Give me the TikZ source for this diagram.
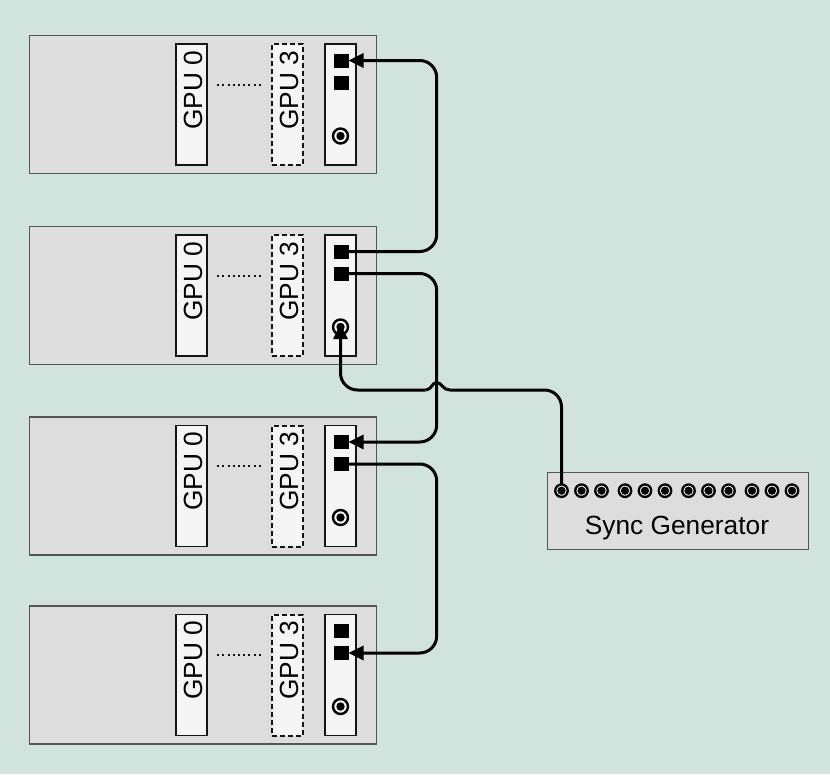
\documentclass[tikz,border=0pt]{standalone}
\usepackage{fontspec}
\setmainfont{Liberation Sans}
\usetikzlibrary{arrows.meta}
\definecolor{bg}{RGB}{208,227,220}
\definecolor{boxfill}{RGB}{221,221,221}
\definecolor{boxline}{RGB}{85,85,85}
\definecolor{panelfill}{RGB}{245,245,245}
\definecolor{ink}{RGB}{20,20,20}
\newcommand\lblfont{\fontsize{26.3}{30}\selectfont}
\tikzset{
  server/.style={draw=boxline, fill=boxfill, line width=1.5pt, minimum width=347pt, minimum height=138pt, inner sep=0pt},
  slot/.style={draw=ink, fill=panelfill, line width=1.5pt, minimum width=31pt, minimum height=121pt, inner sep=0pt},
  slotdash/.style={slot, line width=2pt, dash pattern=on 5pt off 3pt},
  gpulbl/.style={rotate=90, inner sep=0pt, font=\lblfont},
  dotline/.style={draw=ink, line width=2pt, dash pattern=on 2pt off 3.2pt},
  sqport/.style={fill=black, minimum width=15pt, minimum height=14pt, inner sep=0pt, outer sep=0pt},
  ringport/.style={circle, draw=black, fill=panelfill, line width=2.4pt, minimum size=15pt, inner sep=0pt, outer sep=0pt},
  sgport/.style={circle, draw=black, fill=panelfill, line width=2.3pt, minimum size=12.5pt, inner sep=0pt, outer sep=0pt},
  conn/.style={draw=black, line width=3pt, rounded corners=17pt},
  connarrow/.style={conn, -{Triangle[length=15pt,width=14pt]}},
  hopline/.style={draw=black, line width=3pt},
}
\begin{document}
\begin{tikzpicture}[x=1pt,y=-1pt]
\fill[bg] (0,0) rectangle (830,774);
\useasboundingbox (0,0) rectangle (830,774);
\coordinate (bus) at (436.7,0);
\coordinate (hop) at (436.7,390);
% servers
\foreach \t [count=\i] in {35.5,226.5,417,606} {
  \node[server] (srv\i) at (203,\t+69) {};
  \node[slot] (gz\i) at (191.5,\t+69) {};
  \node[slotdash] (gt\i) at (287,\t+69) {};
  \node[slot] (pn\i) at (340.5,\t+69) {};
  \node[gpulbl] (tz\i) at (193.3,\t+54.5) {GPU 0};
  \node[gpulbl] (tt\i) at (289,\t+54.5) {GPU 3};
  \draw[dotline] ([xshift=9.5pt,yshift=20pt]gz\i.east) -- ([xshift=-8pt,yshift=20pt]gt\i.west);
  \node[sqport] (sa\i) at (341,\t+25) {};
  \node[sqport] (sb\i) at (341,\t+47) {};
  \node[ringport] (rc\i) at (340.5,\t+100.5) {};
  \fill (rc\i.center) circle (4.2);
}
% sync generator box
\node[server, minimum width=261pt, minimum height=76.6pt] (sync) at (677.8,511) {};
\node[inner sep=0pt, anchor=base, font=\lblfont] (synclbl) at (677,534) {Sync Generator};
% connectors
\draw[connarrow] (sa2.east) -| (bus |- sa1.east) -- (sa1.east);
\draw[connarrow] (sb2.east) -| (bus |- sa3.east) -- (sa3.east);
\draw[connarrow] (sb3.east) -| (bus |- sb4.east) -- (sb4.east);
% sync line with hop
\coordinate (sgtop) at (561.5,484);
\coordinate (hopR) at ([xshift=13pt]hop);
\coordinate (hopL) at ([xshift=-11pt]hop);
\draw[conn] (sgtop) |- (hopR);
\draw[hopline] (hopR)
  .. controls ([xshift=6pt]hop) and ([xshift=5pt,yshift=7.5pt]hop) .. ([yshift=7.5pt]hop)
  .. controls ([xshift=-5pt,yshift=7.5pt]hop) and ([xshift=-5pt]hop) .. (hopL);
\draw[connarrow] (hopL) -| ([yshift=3pt]rc2.center);
% sync ports
\foreach \g in {0,1,2,3} {
  \foreach \k in {0,1,2} {
    \node[sgport] (sg\g\k) at (561.5+63.5*\g+20*\k,490.7) {};
    \fill (sg\g\k.center) circle (4.1);
  }
}
\end{tikzpicture}
\end{document}
